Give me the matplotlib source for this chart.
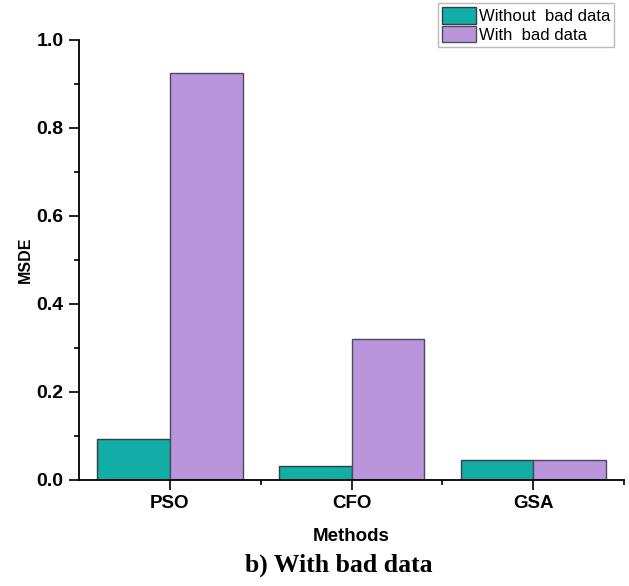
import matplotlib
matplotlib.use("Agg")
import matplotlib.pyplot as plt
import numpy as np
from matplotlib.ticker import MultipleLocator, FixedLocator

methods = ["PSO", "CFO", "GSA"]
without_bad = [0.093, 0.032, 0.045]
with_bad = [0.925, 0.320, 0.045]
labels = ["Without  bad data", "With  bad data"]

plt.rcParams['font.family'] = ['Liberation Sans', 'DejaVu Sans']

fig = plt.figure(figsize=(6.29, 5.86), dpi=100)
ax = fig.add_axes([79/629, 1 - 480/586, (624 - 79)/629, 440/586])

x = np.arange(len(methods))
w = 0.4
ax.bar(x - w/2, without_bad, w, color="#12aea6", edgecolor="#3a3a4a", linewidth=1.0, label=labels[0])
ax.bar(x + w/2, with_bad, w, color="#b996dc", edgecolor="#4a4a5a", linewidth=1.0, label=labels[1])

ax.set_xlim(-0.5, 2.5)
ax.set_ylim(0, 1.0)
ax.set_xticks(x)
ax.set_xticklabels(methods, fontweight="bold", fontsize=13.5)
ax.xaxis.set_minor_locator(FixedLocator([0.5, 1.5, 2.5]))
ax.yaxis.set_minor_locator(MultipleLocator(0.1))
ax.set_yticks(np.arange(0, 1.01, 0.2))
ax.set_yticklabels([f"{v:.1f}" for v in np.arange(0, 1.01, 0.2)], fontweight="bold", fontsize=14)

ax.tick_params(axis="both", which="major", direction="out", length=7, width=1.2, pad=4)
ax.tick_params(axis="both", which="minor", direction="out", length=3.5, width=1.2)

for s in ["top", "right"]:
    ax.spines[s].set_visible(False)
for s in ["left", "bottom"]:
    ax.spines[s].set_linewidth(1.3)

ax.set_xlabel("Methods", fontweight="bold", fontsize=13.5, labelpad=11)
ax.set_ylabel("MSDE", fontweight="bold", fontsize=11.5, labelpad=3)

leg = fig.legend(loc="upper left", bbox_to_anchor=(438/629, 1 - 3/586), frameon=True,
                 fancybox=False, edgecolor="#aaaaaa", fontsize=12,
                 handlelength=2.0, handleheight=1.15, handletextpad=0.2,
                 labelspacing=0.1, borderpad=0.25, borderaxespad=0)
leg.get_frame().set_linewidth(1.0)

fig.text(0.538, 1 - 565/586, "b) With bad data", ha="center", va="center",
         fontsize=18.5, fontweight="bold", family=["Liberation Serif", "DejaVu Serif"])

fig.savefig("out.png", dpi=100)
